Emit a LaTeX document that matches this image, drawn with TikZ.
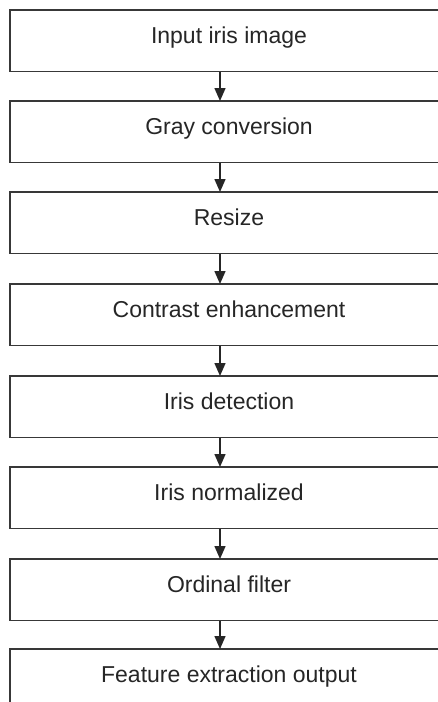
\documentclass[tikz,border=0pt]{standalone}
\usepackage{fontspec}
\setmainfont{Liberation Sans}
\usetikzlibrary{arrows.meta,calc}
\begin{document}
\begin{tikzpicture}[x=1pt,y=-1pt,
  stagebox/.style={draw=black!78,line width=1.8pt,rectangle,
    minimum width=437pt,minimum height=61.5pt,inner sep=0pt,outer sep=0pt},
  stagetext/.style={anchor=base,inner sep=0pt,font=\fontsize{23}{27}\selectfont,text=black!85},
  flow/.style={draw=black!85,line width=1.4pt,-{Triangle[width=11pt,length=13pt]}}]
\useasboundingbox (0,0) rectangle (438,702);
\clip (0,0) rectangle (438,702);
\fill[white] (0,0) rectangle (438,702);
% stage boxes, top edges in order
\foreach \t [count=\i] in {10,101,192,284,376,467,559,649}
  \node[stagebox] (b\i) at (228.5,\t+30.75) {};
% stage captions
\node[stagetext] at ($(b1.north)+(0.5,33)$) {Input iris image};
\node[stagetext] at ($(b2.north)+(0.5,33)$) {Gray conversion};
\node[stagetext] at ($(b3.north)+(0.5,33)$) {Resize};
\node[stagetext] at ($(b4.north)+(0.5,33)$) {Contrast enhancement};
\node[stagetext] at ($(b5.north)+(0.5,33)$) {Iris detection};
\node[stagetext] at ($(b6.north)+(0.5,33)$) {Iris normalized};
\node[stagetext] at ($(b7.north)+(0.5,33)$) {Ordinal filter};
\node[stagetext] at ($(b8.north)+(0.5,33)$) {Feature extraction output};
% connectors
\foreach \i [evaluate=\i as \j using int(\i+1)] in {1,...,7}
  \draw[flow] ($(b\i.south)+(-8.5,0)$) -- ($(b\j.north)+(-8.5,0)$);
\end{tikzpicture}
\end{document}
